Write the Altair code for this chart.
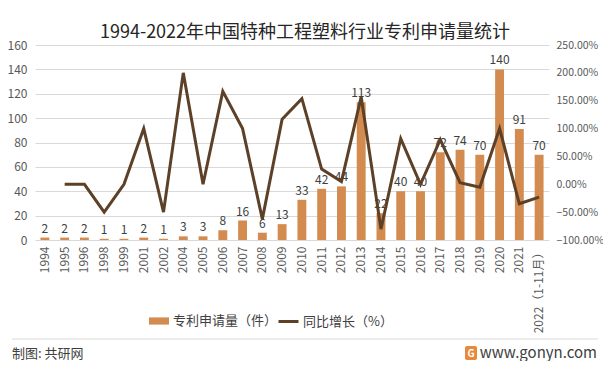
import altair as alt
import pandas as pd

years = ["1994", "1995", "1996", "1998", "1999", "2001", "2002", "2004", "2005", "2006",
         "2007", "2008", "2009", "2010", "2011", "2012", "2013", "2014", "2015", "2016",
         "2017", "2018", "2019", "2020", "2021", "2022（1-11月）"]
applications = [2, 2, 2, 1, 1, 2, 1, 3, 3, 8, 16, 6, 13, 33, 42, 44, 113, 22, 40, 40,
                72, 74, 70, 140, 91, 70]
growth = [None, 0, 0, -50, 0, 100, -50, 200, 0, 166.7, 100, -62.5, 116.7, 153.8, 27.3,
          4.8, 156.8, -80.5, 81.8, 0, 80, 2.8, -5.4, 100, -35, -23.1]

bar_name = "专利申请量（件）"
line_name = "同比增长（%）"
BAR = "#D38B4F"
LINE = "#5C4027"
FONT = "Noto Sans CJK SC"
TXT = "#595959"

df = pd.DataFrame({"year": years, "apps": applications, "growth": growth})
one = pd.DataFrame({"k": [0]})

base = alt.Chart(df)
left_axis = alt.Axis(values=list(range(0, 161, 20)), grid=True, gridColor="#D9D9D9",
                     domain=False, ticks=False, labelFontSize=12, labelColor=TXT,
                     labelFont=FONT, labelPadding=8, labelOverlap=False)
yleft = alt.Y("apps:Q", title=None, scale=alt.Scale(domain=[0, 160], nice=False),
              axis=left_axis)
xenc = alt.X("year:N", sort=years, title=None,
             scale=alt.Scale(paddingInner=0.55, paddingOuter=0.275),
             axis=alt.Axis(labelAngle=-90, labelFontSize=12, labelColor=TXT, labelFont=FONT,
                           ticks=False, domain=False, labelPadding=6, labelLimit=200))

bars = base.mark_bar(color=BAR).encode(
    x=xenc,
    y=yleft,
    color=alt.Color("s:N", scale=alt.Scale(domain=[bar_name], range=[BAR]),
                    legend=alt.Legend(orient="none", legendX=113, legendY=265, title=None,
                                      symbolType="M-1,-0.36L1,-0.36L1,0.36L-1,0.36Z",
                                      symbolSize=400, symbolOpacity=1, labelFontSize=13,
                                      labelColor="#404040", labelFont=FONT, labelOffset=3)),
).transform_calculate(s=f"'{bar_name}'")

labels = base.mark_text(dy=-9, fontSize=12, color="#404040", font=FONT).encode(
    x=alt.X("year:N", sort=years),
    y=yleft,
    text="apps:Q",
)

left = alt.layer(bars, labels)

line = base.mark_line(strokeWidth=3, strokeJoin="miter").encode(
    x=alt.X("year:N", sort=years),
    y=alt.Y("growth:Q", title=None,
            scale=alt.Scale(domain=[-100, 250], nice=False),
            axis=alt.Axis(orient="right", values=list(range(-100, 251, 50)), grid=False,
                          domain=False, ticks=False, labelFontSize=10.5, labelColor=TXT,
                          labelFont=FONT, labelPadding=7, labelAlign="left",
                          labelOverlap=False,
                          labelExpr="format(datum.value, '.2f') + '%'")),
    stroke=alt.Stroke("s:N", scale=alt.Scale(domain=[line_name], range=[LINE]),
                      legend=alt.Legend(orient="none", legendX=242, legendY=265, title=None,
                                        symbolType="stroke", symbolSize=400,
                                        symbolStrokeWidth=3, labelFontSize=13,
                                        labelColor="#404040", labelFont=FONT, labelOffset=3)),
).transform_filter("datum.growth != null").transform_calculate(s=f"'{line_name}'")

ann = alt.Chart(one)
sep = ann.mark_rule(color="#D9D9D9", strokeWidth=1).encode(
    x=alt.value(-23), x2=alt.value(563), y=alt.value(294))
credit = ann.mark_text(text="制图: 共研网", align="left", baseline="middle",
                       fontSize=13, color="#404040", font=FONT).encode(
    x=alt.value(-23), y=alt.value(309))
site = ann.mark_text(text="www.gonyn.com", align="right", baseline="middle",
                     fontSize=15, color="#404040", font=FONT).encode(
    x=alt.value(562), y=alt.value(308))
logo = ann.mark_rect(color="#E8883A", cornerRadius=2).encode(
    x=alt.value(430), x2=alt.value(442), y=alt.value(301), y2=alt.value(315))
logo_g = ann.mark_text(text="G", fontSize=10, fontWeight="bold", color="white",
                       font=FONT, baseline="middle").encode(
    x=alt.value(436), y=alt.value(308.5))

chart = alt.layer(left, line, sep, credit, site, logo, logo_g).resolve_scale(
    y="independent", color="independent", stroke="independent"
).properties(
    width=514, height=195,
    title=alt.TitleParams("1994-2022年中国特种工程塑料行业专利申请量统计", fontSize=18,
                          font=FONT, fontWeight="normal", color="#262626", anchor="middle",
                          dx=13, offset=-3),
    autosize=alt.AutoSizeParams(type="none"),
    padding={"left": 27, "top": 37, "right": 54, "bottom": 121},
).configure_view(stroke=None)

chart.save("out.html", embed_options={"renderer": "svg", "actions": False})
